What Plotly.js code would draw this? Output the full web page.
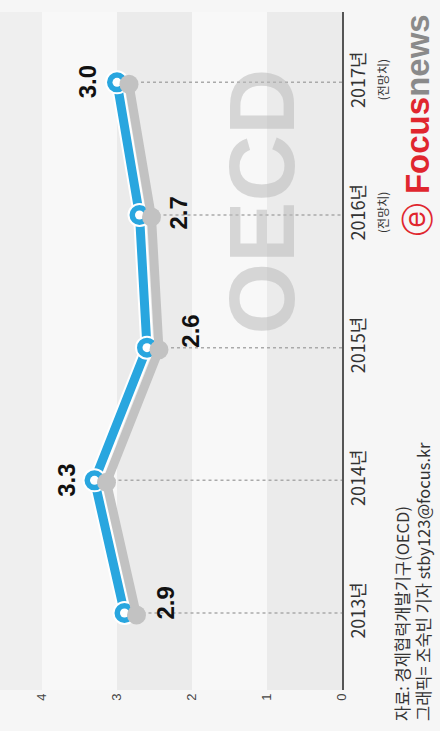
<!DOCTYPE html>
<html><head><meta charset="utf-8">
<script src="https://cdn.plot.ly/plotly-3.0.1.min.js"></script>
<style>html,body{margin:0;padding:0;background:#f6f6f6;}#c{width:440px;height:731px;}</style>
</head><body><div id="c"></div>
<script>
const categories = ['2013', '2014', '2015', '2016', '2017'];
const tickLabels = ['2013년', '2014년', '2015년', '2016년<br><span style="font-size:12px">(전망치)</span>', '2017년<br><span style="font-size:12px">(전망치)</span>'];
const values = [2.9, 3.3, 2.6, 2.7, 3.0];
const valueTicks = [0, 1, 2, 3, 4];
const sourceLines = ['자료: 경제협력개발기구(OECD)', '그래픽= 조숙빈 기자 stby123@focus.kr'];

// styling only
const labelXShift = [41, -28, 44, 38, -30];
const labelYShift = [10, 0, 16, 2, 0];
const BLUE = '#29a6df';
const XR = [4.56, 0];
const YR = [-0.58, 4.53];
const SX = 0.16, SY = 0.015;

const shapes = [];
// alternating bands
valueTicks.slice(0, -1).forEach((t, i) => {
  if (i % 2 === 0) shapes.push({type:'rect', xref:'x', yref:'paper', x0:t, x1:t+1, y0:0, y1:1, fillcolor:'#ebebeb', line:{width:0}, layer:'below'});
});
shapes.push({type:'rect', xref:'x', yref:'paper', x0:valueTicks[valueTicks.length-1], x1:XR[0], y0:0, y1:1, fillcolor:'#efefef', line:{width:0}, layer:'below'});
// dotted guide lines (category index positions)
values.forEach((v, i) => {
  shapes.push({type:'line', xref:'x', yref:'y', x0:v, x1:0, y0:i, y1:i, line:{color:'#aaaaaa', width:1.5, dash:'dot'}, layer:'below'});
});

const annotations = values.map((v, i) => ({
  xref:'x', yref:'y', x:v, y:i, xshift:labelXShift[i], yshift:labelYShift[i],
  text:'<b>' + v.toFixed(1) + '</b>', showarrow:false, textangle:-90,
  font:{family:'Liberation Sans, Arial, sans-serif', size:24, color:'#111'}
}));
annotations.push({
  xref:'paper', yref:'paper', x:1.133, y:-0.048, xanchor:'left', yanchor:'bottom', align:'left',
  text: sourceLines.join('<br>'), showarrow:false, textangle:-90,
  font:{family:'Noto Sans CJK KR, sans-serif', size:16.5, color:'#333'}
});
annotations.push({
  xref:'paper', yref:'paper', x:1.16, y:1.0, xanchor:'left', yanchor:'top',
  text:'<span style="color:#e0262e">ⓔ <b>Focus</b></span><span style="color:#8a8a8a"><b>news</b></span>',
  showarrow:false, textangle:-90,
  font:{family:'Liberation Sans Narrow, Liberation Sans, sans-serif', size:33}
});
annotations.push({
  xref:'paper', yref:'paper', x:0.765, y:0.72, xanchor:'center', yanchor:'middle',
  text:'<b>OECD</b>', showarrow:false, textangle:-90,
  font:{family:'Liberation Sans, Arial, sans-serif', size:92, color:'rgba(185,185,185,0.55)'}
});

const traces = [
  {x: values, y: categories, xaxis:'x2', yaxis:'y2', type:'scatter', mode:'lines+markers',
   line:{color:'#c2c2c2', width:9}, marker:{size:19, color:'#c2c2c2'}, hoverinfo:'skip'},
  {x: values, y: categories, type:'scatter', mode:'lines',
   line:{color:'#ffffff', width:13}, hoverinfo:'skip'},
  {x: values, y: categories, type:'scatter', mode:'lines+markers',
   line:{color:BLUE, width:9}, marker:{size:22, color:BLUE, line:{color:'#ffffff', width:2}}},
  {x: values, y: categories, type:'scatter', mode:'markers',
   marker:{size:9, color:'#ffffff'}, hoverinfo:'skip'}
];

const layout = {
  width:440, height:731, showlegend:false,
  paper_bgcolor:'#f6f6f6', plot_bgcolor:'#f8f8f8',
  margin:{l:0, r:98, t:12, b:41},
  xaxis:{range:XR, tickvals:valueTicks, ticktext:valueTicks.map(String), tickangle:-90,
    showgrid:false, zeroline:false, showline:false, ticks:'',
    tickfont:{family:'Liberation Sans, Arial, sans-serif', size:13, color:'#444'}},
  yaxis:{type:'category', categoryorder:'array', categoryarray:categories, range:YR,
    tickvals:categories, ticktext:tickLabels, tickangle:-90, side:'right',
    showgrid:false, zeroline:false, showline:true, linecolor:'#555', linewidth:1.5, ticks:'',
    tickfont:{family:'Noto Sans CJK KR, sans-serif', size:18, color:'#333'}},
  xaxis2:{overlaying:'x', range:[XR[0]+SX, XR[1]+SX], visible:false},
  yaxis2:{overlaying:'y', type:'category', categoryorder:'array', categoryarray:categories,
    range:[YR[0]+SY, YR[1]+SY], visible:false},
  shapes: shapes, annotations: annotations
};
Plotly.newPlot('c', traces, layout, {displayModeBar:false, staticPlot:true});
</script></body></html>
